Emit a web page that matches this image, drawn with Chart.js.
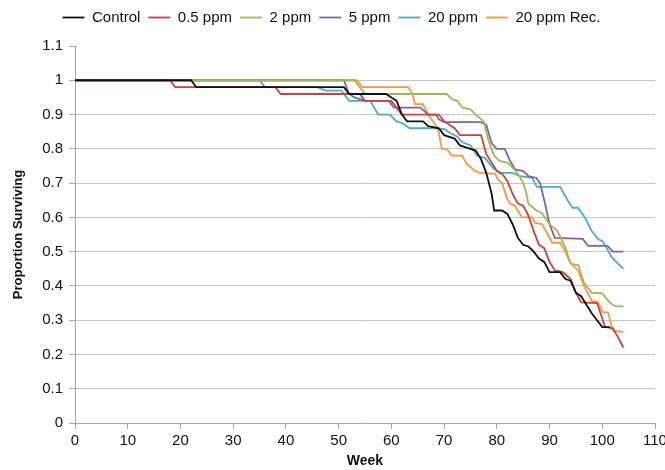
<!DOCTYPE html>
<html>
<head>
<meta charset="utf-8">
<script src="https://cdn.jsdelivr.net/npm/chart.js@4/dist/chart.umd.min.js"></script>
<style>
  html, body { margin: 0; padding: 0; background: #fff; }
  #wrap { width: 665px; height: 470px; }
</style>
</head>
<body>
<div id="wrap"><canvas id="chart" width="665" height="470"></canvas></div>
<script>
// Survival curves (week, proportion surviving)
var controlWeeks = [0, 22, 23, 51, 52, 59, 60, 61, 62, 63, 66, 67, 69, 70, 72, 73, 75, 76, 77, 78, 79, 79.5, 81, 82, 83, 84, 85, 86, 87, 88, 89, 90, 92, 93, 94, 95, 96, 98, 100, 101.5];
var controlValues = [1, 1, 0.98, 0.98, 0.96, 0.96, 0.95, 0.94, 0.90, 0.88, 0.88, 0.866, 0.86, 0.84, 0.83, 0.81, 0.80, 0.795, 0.77, 0.73, 0.67, 0.62, 0.62, 0.61, 0.58, 0.54, 0.52, 0.515, 0.50, 0.48, 0.47, 0.44, 0.44, 0.42, 0.415, 0.38, 0.37, 0.32, 0.28, 0.28];

var ppm05Weeks = [0, 18, 19, 38, 39, 54, 55, 60, 62, 69, 70, 72, 73, 77, 78, 80, 81, 82, 83, 84, 85, 86, 87, 88, 89, 90, 91, 92.5, 94, 95, 96, 99, 100, 100.5, 102, 103, 104];
var ppm05Values = [1, 1, 0.98, 0.98, 0.96, 0.96, 0.94, 0.94, 0.90, 0.90, 0.88, 0.86, 0.84, 0.84, 0.785, 0.735, 0.727, 0.706, 0.668, 0.64, 0.634, 0.605, 0.56, 0.52, 0.51, 0.47, 0.445, 0.44, 0.42, 0.38, 0.352, 0.35, 0.305, 0.28, 0.276, 0.25, 0.22];

var ppm2Weeks = [0, 53, 55, 70.5, 71.5, 72.5, 73.5, 75, 76, 77.5, 78.5, 79.5, 80.5, 82, 83, 84, 85, 85.5, 86, 87.5, 88.5, 90, 91.5, 93, 94, 95.5, 96.5, 98, 100, 101.5, 102.5, 104];
var ppm2Values = [1, 1, 0.96, 0.96, 0.945, 0.94, 0.92, 0.915, 0.90, 0.88, 0.82, 0.78, 0.765, 0.76, 0.745, 0.727, 0.70, 0.677, 0.64, 0.62, 0.613, 0.58, 0.56, 0.512, 0.465, 0.46, 0.41, 0.38, 0.378, 0.35, 0.34, 0.34];

var ppm5Weeks = [0, 51, 52, 53, 55, 59.5, 60.5, 65.5, 67, 68.5, 69, 70, 77, 78, 79, 80, 81.5, 82.5, 83.5, 85, 86, 87.5, 88.2, 89, 90, 91, 96.3, 97.3, 101, 102, 104];
var ppm5Values = [1, 1, 0.96, 0.95, 0.94, 0.94, 0.92, 0.92, 0.90, 0.90, 0.886, 0.878, 0.878, 0.87, 0.817, 0.80, 0.80, 0.765, 0.74, 0.735, 0.72, 0.715, 0.70, 0.65, 0.58, 0.54, 0.537, 0.517, 0.517, 0.50, 0.50];

var ppm20Weeks = [0, 35, 36, 46, 47.5, 50.5, 52, 56, 57.5, 59.7, 61, 62, 63.5, 68.7, 70.2, 71.1, 72.4, 73.4, 75, 76.2, 77.8, 79.3, 80.6, 83, 84.4, 86.7, 87.6, 92, 93.5, 94.4, 95.4, 96.7, 98, 99.2, 100.1, 101.1, 101.8, 104];
var ppm20Values = [1, 1, 0.98, 0.98, 0.97, 0.97, 0.94, 0.94, 0.90, 0.90, 0.88, 0.875, 0.86, 0.86, 0.857, 0.846, 0.837, 0.82, 0.81, 0.78, 0.773, 0.744, 0.73, 0.73, 0.72, 0.715, 0.689, 0.689, 0.648, 0.628, 0.628, 0.60, 0.56, 0.537, 0.53, 0.503, 0.483, 0.45];

var ppm20RecWeeks = [0, 53.5, 54.5, 63.2, 64, 64.5, 66, 67, 68.8, 69.6, 70.5, 71.5, 73.4, 74.3, 75.9, 76.8, 79.7, 80.2, 81, 81.9, 82.5, 83.4, 84.8, 86.7, 87.2, 88.6, 89.5, 90.5, 92, 92.9, 93.9, 95.4, 96.7, 98, 99.2, 100.1, 101.1, 102, 104];
var ppm20RecValues = [1, 1, 0.98, 0.98, 0.96, 0.93, 0.93, 0.90, 0.86, 0.80, 0.80, 0.78, 0.78, 0.756, 0.735, 0.73, 0.727, 0.71, 0.70, 0.657, 0.64, 0.634, 0.60, 0.60, 0.584, 0.58, 0.555, 0.526, 0.526, 0.503, 0.468, 0.445, 0.395, 0.357, 0.352, 0.323, 0.323, 0.27, 0.265];

var seriesNames = ['Control', '0.5 ppm', '2 ppm', '5 ppm', '20 ppm', '20 ppm Rec.'];
var seriesColours = ['#111111', '#c9423f', '#9bbb59', '#8064a2', '#4bacc6', '#f79646'];

function pairs(weeks, values) {
  return weeks.map(function (w, i) { return { x: w, y: values[i] }; });
}

var seriesData = [
  pairs(controlWeeks, controlValues),
  pairs(ppm05Weeks, ppm05Values),
  pairs(ppm2Weeks, ppm2Values),
  pairs(ppm5Weeks, ppm5Values),
  pairs(ppm20Weeks, ppm20Values),
  pairs(ppm20RecWeeks, ppm20RecValues)
];

var font = "'Liberation Sans', Arial, sans-serif";
var axisGrey = '#a6a6a6';

// push the plot down a bit without moving the legend text
var legendGap = {
  id: 'legendGap',
  beforeInit: function (chart) {
    var fit = chart.legend.fit;
    chart.legend.fit = function () {
      fit.call(this);
      this.height += 11;
    };
  }
};

new Chart(document.getElementById('chart'), {
  type: 'line',
  data: {
    datasets: seriesData.map(function (d, i) {
      return {
        label: seriesNames[i],
        data: d,
        borderColor: seriesColours[i],
        backgroundColor: seriesColours[i],
        borderWidth: 1.8,
        pointRadius: 0,
        tension: 0,
        fill: false
      };
    })
  },
  plugins: [legendGap],
  options: {
    responsive: false,
    animation: false,
    events: [],
    layout: { padding: { left: 8, right: 10, top: 2, bottom: 0 } },
    plugins: {
      tooltip: { enabled: false },
      legend: {
        position: 'top',
        labels: {
          font: { family: font, size: 15 },
          color: '#111',
          usePointStyle: true,
          pointStyle: 'line',
          pointStyleWidth: 22,
          padding: 8
        }
      }
    },
    scales: {
      x: {
        type: 'linear',
        min: 0,
        max: 110,
        ticks: { stepSize: 10, color: '#111', font: { family: font, size: 15 }, padding: 3, maxRotation: 0 },
        grid: { drawOnChartArea: false, tickLength: 6, color: axisGrey },
        border: { color: axisGrey },
        title: { display: true, text: 'Week', color: '#111', font: { family: font, size: 14, weight: 'bold' }, padding: { top: 1, bottom: 0 } },
        afterFit: function (scale) {
          scale.height = 47;
          scale.paddingLeft = 0;
          scale.paddingRight = 0;
        }
      },
      y: {
        min: 0,
        max: 1.1,
        ticks: {
          stepSize: 0.1,
          color: '#111',
          font: { family: font, size: 15 },
          padding: 6,
          callback: function (v) { return Math.round(v * 10) / 10; }
        },
        grid: {
          tickLength: 6,
          tickColor: axisGrey,
          color: function (ctx) { return ctx.tick && ctx.tick.value > 1.05 ? 'rgba(0,0,0,0)' : '#c4c4c4'; }
        },
        border: { color: axisGrey },
        title: { display: true, text: 'Proportion Surviving', color: '#111', font: { family: font, size: 13, weight: 'bold' }, padding: { top: 3, bottom: 4 } },
        afterFit: function (scale) {
          scale.width = 67;
          scale.paddingTop = 0;
          scale.paddingBottom = 0;
        }
      }
    }
  }
});
</script>
</body>
</html>
